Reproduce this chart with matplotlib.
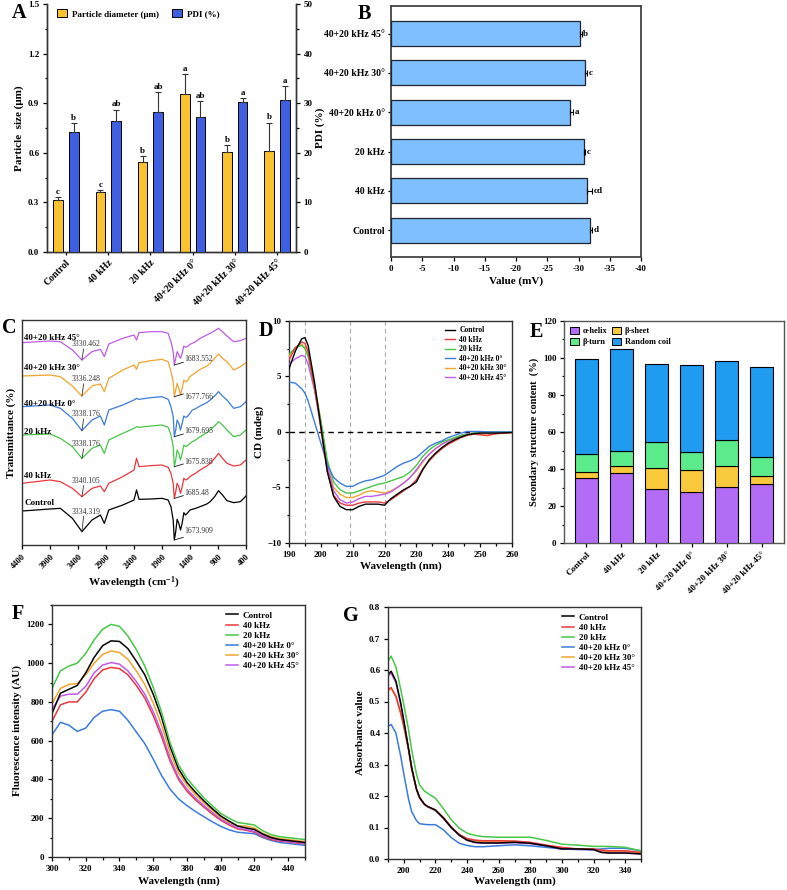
import numpy as np
import matplotlib
matplotlib.use("Agg")
import matplotlib.pyplot as plt
from matplotlib.patches import Patch
from matplotlib.ticker import MultipleLocator

FIG_W, FIG_H = 787, 890

groups = ["Control", "40 kHz", "20 kHz", "40+20 kHz 0°", "40+20 kHz 30°", "40+20 kHz 45°"]
line_colors = ["#000000", "#E8383D", "#46C846", "#3A7CDB", "#F3A42C", "#C05AE8"]

# A: particle size / PDI
particle_size = [0.315, 0.36, 0.545, 0.956, 0.603, 0.61]
particle_err = [0.015, 0.012, 0.035, 0.12, 0.045, 0.172]
particle_letters = ["c", "c", "b", "a", "b", "b"]
pdi = [24.1, 26.4, 28.3, 27.3, 30.2, 30.6]
pdi_err = [1.9, 2.3, 4.0, 3.1, 0.9, 2.8]
pdi_letters = ["b", "ab", "ab", "ab", "a", "a"]

# B: zeta potential
zeta = [-31.8, -31.3, -30.9, -28.7, -31.1, -30.2]
zeta_err = [0.3, 0.9, 0.2, 0.4, 0.3, 0.3]
zeta_letters = ["d", "cd", "c", "a", "c", "b"]

# C: FTIR (arbitrary transmittance units, stacked)
ftir_wn = [4400, 3900, 3715, 3500, 3330, 3150, 3000, 2930, 2850, 2600,
           2400, 2355, 2310, 2100, 1900, 1790, 1740, 1700, 1680, 1655,
           1630, 1600, 1570, 1540, 1510, 1480, 1450, 1400, 1360, 1300,
           1220, 1100, 1040, 960, 890, 820, 740, 620, 500, 400]
ftir_control = [102, 108, 110, 80, 40, 75, 90, 65, 105, 120,
                135, 165, 137, 138, 140, 135, 115, 75, 15, 40,
                77, 65, 45, 65, 97, 90, 95, 105, 107, 110,
                115, 123, 130, 145, 163, 150, 133, 127, 130, 147]
ftir_40k = [185, 195, 190, 170, 145, 170, 177, 160, 185, 205,
            225, 260, 235, 238, 240, 233, 215, 185, 140, 160,
            185, 175, 155, 175, 200, 195, 197, 205, 210, 215,
            225, 237, 245, 260, 275, 260, 245, 237, 240, 255]
ftir_20k = [330, 333, 320, 295, 260, 290, 300, 275, 315, 335,
            350, 355, 353, 357, 360, 353, 330, 295, 235, 255,
            285, 275, 255, 275, 300, 295, 297, 305, 310, 315,
            325, 337, 345, 357, 370, 360, 345, 325, 330, 345]
ftir_0 = [415, 420, 410, 380, 343, 375, 387, 360, 405, 420,
          435, 440, 437, 442, 445, 437, 415, 385, 325, 345,
          375, 365, 345, 365, 387, 383, 385, 395, 405, 409,
          417, 427, 435, 447, 460, 447, 435, 410, 415, 430]
ftir_30 = [507, 510, 505, 477, 447, 477, 483, 460, 500, 525,
           540, 527, 547, 553, 557, 550, 520, 490, 445, 465,
           485, 470, 450, 470, 495, 490, 492, 505, 510, 517,
           527, 537, 545, 560, 573, 560, 550, 525, 535, 547]
ftir_45 = [607, 612, 610, 585, 555, 580, 587, 565, 603, 620,
           630, 615, 637, 640, 640, 635, 610, 580, 540, 560,
           580, 570, 560, 575, 597, 593, 595, 602, 605, 610,
           620, 630, 635, 643, 650, 640, 627, 610, 613, 620]
ftir_oh_labels = ["3334.319", "3340.105", "3338.176", "3338.176", "3336.248", "3330.462"]
ftir_amide_labels = ["1673.909", "1685.48", "1675.838", "1679.695", "1677.766", "1683.552"]

# D: CD spectra
cd_wl = [190, 192, 194, 195, 196, 198, 200, 202, 204, 206, 208, 210, 212, 214, 216, 218,
         220, 222, 224, 226, 228, 230, 232, 234, 236, 238, 240, 242, 244, 246, 248, 250,
         252, 255, 260]
cd_control = [5.7, 7.3, 8.4, 8.5, 7.8, 4.5, 0.5, -3.5, -5.8, -6.7, -7.0, -7.0, -6.7, -6.5, -6.5, -6.5,
              -6.6, -6.0, -5.6, -5.2, -4.9, -4.5, -3.4, -2.5, -1.9, -1.4, -1.0, -0.7, -0.45, -0.25, -0.15, -0.1,
              -0.1, -0.1, -0.05]
cd_40k = [6.5, 7.6, 8.1, 8.0, 7.2, 4.0, 0.3, -3.6, -5.7, -6.4, -6.6, -6.6, -6.4, -6.3, -6.3, -6.3,
          -6.4, -6.1, -5.7, -5.3, -4.9, -4.3, -3.3, -2.6, -2.0, -1.5, -1.1, -0.8, -0.5, -0.3, -0.2, -0.25,
          -0.3, -0.15, -0.05]
cd_20k = [7.0, 7.6, 7.8, 7.5, 6.8, 4.0, 1.0, -2.5, -4.5, -5.2, -5.5, -5.5, -5.3, -5.1, -4.9, -4.7,
          -4.6, -4.4, -4.2, -4.0, -3.6, -3.0, -2.2, -1.6, -1.2, -0.9, -0.7, -0.5, -0.3, -0.2, -0.1, 0.0,
          0.0, 0.0, 0.0]
cd_0 = [4.5, 4.4, 3.9, 3.5, 2.8, 0.9, -1.0, -2.9, -4.1, -4.6, -4.9, -4.9, -4.6, -4.4, -4.3, -4.1,
        -3.9, -3.5, -3.1, -2.8, -2.6, -2.3, -1.8, -1.3, -1.0, -0.8, -0.5, -0.3, -0.1, 0.05, 0.05, 0.05,
        0.0, 0.0, 0.0]
cd_30 = [6.8, 7.6, 7.9, 7.6, 6.9, 4.3, 1.0, -3.0, -5.0, -5.6, -5.9, -5.9, -5.7, -5.4, -5.3, -5.4,
         -5.5, -5.3, -5.0, -4.6, -4.1, -3.5, -2.7, -2.0, -1.5, -1.1, -0.8, -0.6, -0.4, -0.25, -0.15, -0.2,
         -0.35, -0.15, -0.05]
cd_45 = [6.1, 6.6, 6.9, 6.8, 6.1, 3.8, 0.8, -3.0, -5.3, -6.1, -6.4, -6.3, -6.0, -5.8, -5.8, -5.7,
         -5.6, -5.4, -5.0, -4.6, -4.1, -3.4, -2.6, -2.0, -1.5, -1.1, -0.8, -0.55, -0.3, -0.15, -0.1, 0.0,
         0.0, 0.0, 0.0]

# E: secondary structure (%)
alpha_helix = [35.1, 38.0, 29.4, 27.6, 30.3, 32.1]
beta_sheet = [3.3, 3.4, 11.3, 12.0, 11.1, 4.1]
beta_turn = [9.9, 8.3, 13.9, 9.6, 14.5, 10.3]
random_coil = [51.3, 55.0, 42.0, 47.2, 42.7, 48.8]

# F: fluorescence
fl_wl = [300, 305, 310, 315, 320, 325, 330, 335, 340, 345, 350, 355, 360, 365, 370, 375,
         380, 385, 390, 395, 400, 405, 410, 415, 420, 425, 430, 435, 440, 445, 450]
fl_control = [740, 845, 865, 885, 950, 1030, 1090, 1115, 1112, 1075, 1010, 940, 840, 720, 570, 455,
              385, 335, 290, 250, 212, 185, 160, 150, 142, 118, 100, 90, 85, 80, 75]
fl_40k = [700, 785, 800, 800, 850, 920, 965, 978, 972, 940, 885, 820, 730, 620, 495, 400,
          340, 295, 258, 222, 190, 165, 145, 138, 128, 105, 90, 82, 78, 72, 68]
fl_20k = [870, 960, 985, 1000, 1050, 1120, 1175, 1200, 1190, 1140, 1070, 985, 875, 745, 590, 475,
          405, 355, 305, 265, 225, 200, 178, 172, 165, 135, 115, 105, 100, 95, 90]
fl_0 = [630, 695, 680, 648, 665, 720, 752, 760, 752, 705, 645, 585, 505, 420, 350, 300,
        265, 235, 208, 182, 158, 140, 128, 124, 120, 100, 85, 75, 70, 65, 60]
fl_30 = [790, 870, 890, 895, 940, 1000, 1045, 1063, 1055, 1020, 960, 890, 795, 680, 540, 435,
         370, 322, 280, 242, 205, 180, 160, 160, 150, 122, 105, 95, 90, 85, 80]
fl_45 = [760, 830, 840, 840, 880, 950, 990, 1003, 995, 960, 905, 840, 750, 640, 510, 410,
         350, 305, 265, 230, 195, 172, 150, 142, 132, 110, 95, 85, 80, 75, 70]

# G: UV absorbance
uv_wl = [190, 192, 195, 198, 200, 203, 205, 208, 210, 213, 215, 220, 225, 230, 235, 240,
         245, 250, 260, 270, 280, 290, 300, 310, 320, 325, 330, 340, 350]
uv_control = [0.586, 0.596, 0.565, 0.496, 0.440, 0.350, 0.290, 0.222, 0.195, 0.174, 0.167, 0.155, 0.130, 0.100, 0.076, 0.060,
              0.053, 0.051, 0.051, 0.053, 0.050, 0.042, 0.032, 0.032, 0.030, 0.021, 0.019, 0.019, 0.016]
uv_40k = [0.538, 0.544, 0.517, 0.464, 0.422, 0.348, 0.285, 0.222, 0.195, 0.174, 0.167, 0.156, 0.132, 0.102, 0.078, 0.065,
          0.060, 0.058, 0.058, 0.057, 0.053, 0.044, 0.037, 0.032, 0.032, 0.028, 0.026, 0.026, 0.021]
uv_20k = [0.628, 0.644, 0.610, 0.540, 0.490, 0.410, 0.345, 0.270, 0.235, 0.216, 0.209, 0.193, 0.160, 0.125, 0.098, 0.082,
          0.075, 0.071, 0.069, 0.069, 0.069, 0.059, 0.047, 0.044, 0.040, 0.040, 0.040, 0.037, 0.026]
uv_0 = [0.422, 0.427, 0.400, 0.327, 0.270, 0.190, 0.150, 0.122, 0.112, 0.110, 0.109, 0.109, 0.093, 0.068, 0.050, 0.043,
        0.039, 0.039, 0.042, 0.045, 0.042, 0.037, 0.032, 0.030, 0.030, 0.032, 0.034, 0.034, 0.026]
uv_30 = [0.535, 0.541, 0.515, 0.462, 0.420, 0.346, 0.284, 0.221, 0.194, 0.173, 0.166, 0.155, 0.131, 0.101, 0.077, 0.063,
         0.058, 0.056, 0.056, 0.055, 0.051, 0.043, 0.035, 0.031, 0.031, 0.026, 0.024, 0.024, 0.020]
uv_45 = [0.580, 0.590, 0.560, 0.492, 0.437, 0.348, 0.288, 0.221, 0.194, 0.173, 0.166, 0.154, 0.129, 0.099, 0.075, 0.059,
         0.052, 0.050, 0.050, 0.052, 0.049, 0.041, 0.031, 0.031, 0.029, 0.021, 0.019, 0.019, 0.016]

plt.rcParams["font.family"] = ["Liberation Serif", "DejaVu Serif"]
plt.rcParams["font.weight"] = "bold"
plt.rcParams["axes.labelweight"] = "bold"
plt.rcParams["mathtext.fontset"] = "custom"
plt.rcParams["mathtext.rm"] = "Liberation Serif:bold"
plt.rcParams["mathtext.default"] = "rm"
plt.rcParams["axes.linewidth"] = 1.0
plt.rcParams["axes.edgecolor"] = "#333333"
plt.rcParams["xtick.major.size"] = 3
plt.rcParams["ytick.major.size"] = 3
plt.rcParams["xtick.minor.size"] = 1.8
plt.rcParams["ytick.minor.size"] = 1.8
plt.rcParams["xtick.major.pad"] = 2.5
plt.rcParams["ytick.major.pad"] = 2.5
plt.rcParams["xtick.labelsize"] = 6.5
plt.rcParams["ytick.labelsize"] = 6.5
plt.rcParams["axes.labelsize"] = 8


def rect(x0, y0, x1, y1):
    return [x0 / FIG_W, 1 - y1 / FIG_H, (x1 - x0) / FIG_W, (y1 - y0) / FIG_H]


def panel_letter(x, y, s):
    fig.text(x / FIG_W, 1 - y / FIG_H, s, fontsize=14.5, fontweight="bold", va="top", ha="left")


fig = plt.figure(figsize=(FIG_W / 100, FIG_H / 100), dpi=100)
x = np.arange(len(groups))
zeros = np.zeros(len(groups))

# ---------------- A ----------------
axA = fig.add_axes(rect(47, 4, 296, 252))
axA2 = axA.twinx()
bw = 0.23
err_style = dict(capsize=2.5, elinewidth=0.8, capthick=0.8, ecolor="#333333")
axA.bar(x - 0.185, particle_size, bw, color="#F9C22E", edgecolor="black", linewidth=0.7,
        yerr=[zeros, particle_err], error_kw=err_style, zorder=3)
axA2.bar(x + 0.185, pdi, bw, color="#3D5FE0", edgecolor="black", linewidth=0.7,
         yerr=[zeros, pdi_err], error_kw=err_style, zorder=3)
for i in range(len(groups)):
    axA.text(x[i] - 0.185, particle_size[i] + particle_err[i] + 0.008, particle_letters[i],
             ha="center", va="bottom", fontsize=6.5)
    axA2.text(x[i] + 0.185, pdi[i] + pdi_err[i] + 0.25, pdi_letters[i],
              ha="center", va="bottom", fontsize=6.5)
axA.set_xlim(-0.45, 5.45)
axA.set_ylim(0, 1.5)
axA2.set_ylim(0, 50)
axA.yaxis.set_major_locator(MultipleLocator(0.3))
axA.yaxis.set_minor_locator(MultipleLocator(0.15))
axA2.yaxis.set_major_locator(MultipleLocator(10))
axA2.yaxis.set_minor_locator(MultipleLocator(5))
axA.set_xticks(x)
axA.set_xticklabels(groups, rotation=45, ha="right", rotation_mode="anchor", fontsize=7)
axA.tick_params(axis="x", length=2)
axA.yaxis.set_major_formatter(matplotlib.ticker.FormatStrFormatter("%.1f"))
axA.set_ylabel("Particle  size (μm)", labelpad=3)
axA2.set_ylabel("PDI (%)", labelpad=2)
for ax in (axA, axA2):
    ax.spines["top"].set_visible(False)
axA2.legend(handles=[Patch(facecolor="#F9C22E", edgecolor="black", linewidth=0.7),
                     Patch(facecolor="#3D5FE0", edgecolor="black", linewidth=0.7)],
            labels=["Particle diameter (μm)", "PDI (%)"], loc="upper left", ncol=2,
            frameon=False, fontsize=6.5, handlelength=1.1, handleheight=1.0,
            columnspacing=1.5, handletextpad=0.5, borderaxespad=0.2, bbox_to_anchor=(0.02, 1.0))
panel_letter(12, 3, "A")

# ---------------- B ----------------
axB = fig.add_axes(rect(391, 6, 641, 257))
axB.barh(x, zeta, 0.64, color="#80BFFF", edgecolor="#1E2533", linewidth=0.9,
         xerr=[zeta_err, zeros], error_kw=dict(capsize=2.5, elinewidth=0.8, capthick=0.8), zorder=3)
for i in range(len(groups)):
    axB.text(zeta[i] - zeta_err[i] - 0.25, x[i], zeta_letters[i], ha="left", va="center", fontsize=6.5)
axB.set_xlim(0, -40)
axB.set_ylim(-0.68, 5.7)
axB.set_xticks(np.arange(0, -41, -5))
axB.set_xticklabels([str(v) for v in range(0, -41, -5)])
axB.set_yticks(x)
axB.set_yticklabels(groups, fontsize=7)
axB.tick_params(axis="y", length=2)
axB.set_xlabel("Value (mV)", labelpad=3)
for s in axB.spines.values():
    s.set_linewidth(1.3)
    s.set_color("#444444")
panel_letter(358, 4, "B")

# ---------------- C ----------------
axC = fig.add_axes(rect(22, 320, 246, 545))
ftir_sets = [ftir_control, ftir_40k, ftir_20k, ftir_0, ftir_30, ftir_45]
sample_label_T = [125, 208, 338, 422, 530, 620]
oh_label_T = [100, 192, 302, 392, 497, 602]
amide_label_T = [43, 157, 250, 343, 445, 558]
for i, ys in enumerate(ftir_sets):
    axC.plot(ftir_wn, ys, color=line_colors[i], lw=0.9)
    axC.text(4360, sample_label_T[i], groups[i], fontsize=6.5, ha="left", va="center")
    oh_min = ys[ftir_wn.index(3330)]
    axC.plot([3300, 3330], [oh_label_T[i] - 14, oh_min], color="#333333", lw=0.6)
    axC.text(3255, oh_label_T[i], ftir_oh_labels[i], fontsize=5.5, fontweight="normal",
             color="#333333", ha="center", va="center")
    am_min = ys[ftir_wn.index(1680)]
    axC.plot([1680, 1520], [am_min, am_min + 8], color="#111111", lw=0.6)
    axC.text(1505, amide_label_T[i], ftir_amide_labels[i], fontsize=5.5, fontweight="normal",
             color="#333333", ha="left", va="center")
axC.set_xlim(4400, 400)
axC.set_ylim(0, 675)
axC.set_yticks([])
axC.set_xticks(np.arange(4400, 399, -500))
axC.set_xticklabels([str(v) for v in range(4400, 399, -500)], rotation=45, ha="right",
                    rotation_mode="anchor", fontsize=6)
axC.set_xlabel("Wavelength (cm$^{-1}$)", labelpad=3)
axC.set_ylabel("Transmittance (%)", labelpad=4)
panel_letter(2, 318, "C")

# ---------------- D ----------------
axD = fig.add_axes(rect(289, 321, 512, 543))
for v in (195, 209, 220):
    axD.axvline(v, color="#AAAAAA", lw=0.8, ls=(0, (4, 3)), zorder=1)
axD.axhline(0, color="black", lw=1.0, ls=(0, (4, 3)), zorder=1)
cd_sets = [cd_control, cd_40k, cd_20k, cd_0, cd_30, cd_45]
handles = {}
for i in [4, 5, 2, 3, 1, 0]:
    handles[i], = axD.plot(cd_wl, cd_sets[i], color=line_colors[i], lw=1.0, zorder=3)
axD.legend([handles[i] for i in range(6)], groups, loc="upper right", frameon=False, fontsize=5.5,
           handlelength=1.4, labelspacing=0.2, handletextpad=0.5, borderaxespad=0.3)
axD.set_xlim(190, 260)
axD.set_ylim(-10, 10)
axD.xaxis.set_major_locator(MultipleLocator(10))
axD.xaxis.set_minor_locator(MultipleLocator(5))
axD.yaxis.set_major_locator(MultipleLocator(5))
axD.yaxis.set_minor_locator(MultipleLocator(2.5))
axD.set_xlabel("Wavelength (nm)", labelpad=2)
axD.set_ylabel("CD (mdeg)", labelpad=2)
panel_letter(259, 321, "D")

# ---------------- E ----------------
axE = fig.add_axes(rect(564, 321, 784, 543))
ss_parts = [alpha_helix, beta_sheet, beta_turn, random_coil]
ss_names = ["α-helix", "β-sheet", "β-turn", "Random coil"]
ss_colors = ["#B36CF6", "#F8C93A", "#5CEB8B", "#1F9BF0"]
bottom = np.zeros(len(groups))
for vals, col in zip(ss_parts, ss_colors):
    axE.bar(x, vals, 0.64, bottom=bottom, color=col, edgecolor="black", linewidth=0.8, zorder=3)
    bottom = bottom + np.array(vals)
leg_order = [0, 2, 1, 3]
axE.legend([Patch(facecolor=ss_colors[k], edgecolor="black", linewidth=0.7) for k in leg_order],
           [ss_names[k] for k in leg_order], loc="upper left", ncol=2, frameon=False, fontsize=6,
           handlelength=1.1, handleheight=0.9, columnspacing=0.6, handletextpad=0.4,
           labelspacing=0.3, borderaxespad=0.3)
axE.set_xlim(-0.64, 5.64)
axE.set_ylim(0, 120)
axE.yaxis.set_major_locator(MultipleLocator(20))
axE.yaxis.set_minor_locator(MultipleLocator(10))
axE.set_xticks(x)
axE.set_xticklabels(groups, rotation=45, ha="right", rotation_mode="anchor", fontsize=6.5)
axE.set_ylabel("Secondary structure content  (%)", labelpad=3, fontsize=7.5)
for s in axE.spines.values():
    s.set_color("#555555")
panel_letter(530, 322, "E")

# ---------------- F ----------------
axF = fig.add_axes(rect(52, 605, 305, 857))
fl_sets = [fl_control, fl_40k, fl_20k, fl_0, fl_30, fl_45]
handles = {}
for i in [3, 1, 5, 4, 0, 2]:
    handles[i], = axF.plot(fl_wl, fl_sets[i], color=line_colors[i], lw=1.1)
axF.legend([handles[i] for i in range(6)], groups, loc="upper right", frameon=False, fontsize=6.5,
           handlelength=1.4, labelspacing=0.2, handletextpad=0.5, borderaxespad=0.3)
axF.set_xlim(300, 450)
axF.set_ylim(0, 1300)
axF.xaxis.set_major_locator(MultipleLocator(20))
axF.xaxis.set_minor_locator(MultipleLocator(10))
axF.yaxis.set_major_locator(MultipleLocator(200))
axF.yaxis.set_minor_locator(MultipleLocator(100))
axF.set_xlabel("Wavelength (nm)", labelpad=3)
axF.set_ylabel("Fluorescence intensity (AU)", labelpad=3)
panel_letter(12, 604, "F")

# ---------------- G ----------------
axG = fig.add_axes(rect(388, 607, 641, 859))
uv_sets = [uv_control, uv_40k, uv_20k, uv_0, uv_30, uv_45]
handles = {}
for i in [4, 5, 3, 1, 0, 2]:
    handles[i], = axG.plot(uv_wl, uv_sets[i], color=line_colors[i], lw=1.1)
axG.legend([handles[i] for i in range(6)], groups, loc="upper right", frameon=False, fontsize=6.5,
           handlelength=1.4, labelspacing=0.2, handletextpad=0.5, borderaxespad=0.3)
axG.set_xlim(190, 350)
axG.set_ylim(0, 0.8)
axG.xaxis.set_major_locator(MultipleLocator(20))
axG.xaxis.set_minor_locator(MultipleLocator(10))
axG.yaxis.set_major_locator(MultipleLocator(0.1))
axG.yaxis.set_major_formatter(matplotlib.ticker.FormatStrFormatter("%.1f"))
axG.set_xlabel("Wavelength (nm)", labelpad=1)
axG.set_ylabel("Absorbance value", labelpad=3)
panel_letter(343, 606, "G")

for ax in (axA, axA2, axB, axC, axD, axE, axF, axG):
    ax.tick_params(direction="out", width=0.9, which="both")

fig.savefig("out.png", dpi=100)
